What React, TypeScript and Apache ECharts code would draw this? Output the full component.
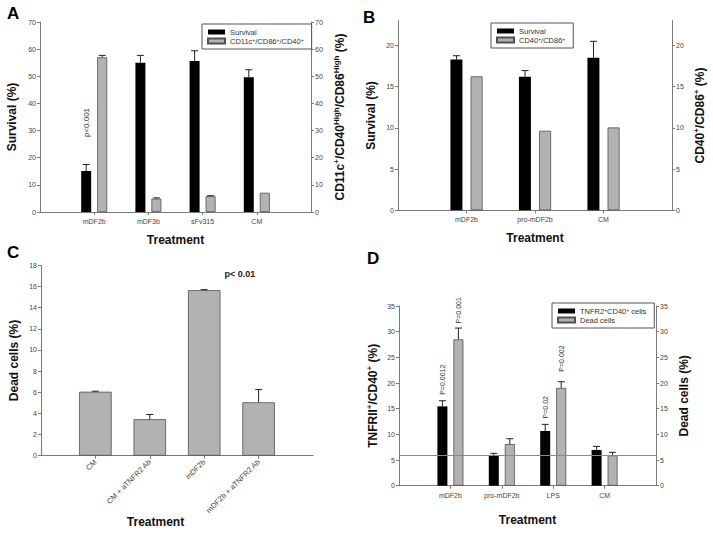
import React, { useEffect, useRef } from "react";
import * as echarts from "echarts";

const FONT = 'Arial, "Liberation Sans", Helvetica, sans-serif';

// ---------- Panel A ----------
const catsA = ["mDF2b", "mDF3b", "sFv315", "CM"];
const survivalA = [15.1, 55.0, 55.6, 49.6];
const survivalErrA = [2.4, 2.7, 3.8, 2.8];
const cdA = [57.0, 4.9, 5.8, 7.1];
const cdErrA = [0.7, 0.3, 0.2, 0];
const pLabelsA = ["p<0.001", null, null, null];
const pAnchorA = [27.6, null, null, null];

// ---------- Panel B ----------
const catsB = ["mDF2b", "pro-mDF2b", "CM"];
const survivalB = [18.3, 16.2, 18.5];
const survivalErrB = [0.45, 0.75, 2.0];
const cdB = [16.25, 9.65, 10.05];
const cdErrB = [0, 0, 0];
const ticksB = [0, 5, 10, 15, 20];

// ---------- Panel C ----------
const catsC = ["CM", "CM + aTNFR2 Ab", "mDF2b", "mDF2b + aTNFR2 Ab"];
const deadC = [6.05, 3.45, 15.65, 5.05];
const deadErrC = [0.05, 0.45, 0.05, 1.2];

// ---------- Panel D ----------
const catsD = ["mDF2b", "pro-mDF2b", "LPS", "CM"];
const tnfrD = [15.45, 5.85, 10.65, 6.95];
const tnfrErrD = [1.1, 0.45, 1.3, 0.7];
const deadD = [28.5, 8.1, 19.05, 5.9];
const deadErrD = [2.2, 1.05, 1.2, 0.6];
const pLabelsTnfrD = ["P=0.0012", null, "P=0.02", null];
const pAnchorTnfrD = [17.7, null, 13.1, null];
const pLabelsDeadD = ["P=0.001", null, "P=0.002", null];
const pAnchorDeadD = [31.6, null, 22.2, null];
const baselineD = 5.85;

const BLACK = "#000000";
const GRAY = "#b2b2b2";
const GRAY_BORDER = "#505050";
const AXIS = "#7a7a7a";
const LABEL = "#444444";

const legendNames: Record<string, string> = {
  A_surv: "Survival",
  A_cd: "CD11c{sup|+}/CD86{sup|+}/CD40{sup|+}",
  B_surv: "Survival",
  B_cd: "CD40{sup|+}/CD86{sup|+}",
  D_tnfr: "TNFR2{sup|+}CD40{sup|+} cells",
  D_dead: "Dead cells",
};

const pad = (arr: number[]) => ["-", ...arr, "-"];

function xCat(gi: number, cats: string[], extra: any = {}) {
  return {
    type: "category",
    gridIndex: gi,
    data: ["", ...cats, ""],
    boundaryGap: false,
    axisLine: { show: true, lineStyle: { color: AXIS, width: 1 } },
    axisTick: {
      show: true,
      length: 3,
      interval: (idx: number) => idx > 0 && idx < cats.length + 1,
      lineStyle: { color: AXIS },
    },
    axisLabel: { interval: 0, fontSize: 7, color: LABEL, fontFamily: FONT, margin: 6 },
    splitLine: { show: false },
    ...extra,
  };
}

const nameStyle = {
  fontSize: 12,
  fontWeight: "bold",
  color: "#111",
  fontFamily: FONT,
  lineHeight: 15,
  rich: {
    sup: { fontSize: 8, fontWeight: "bold", verticalAlign: "top", lineHeight: 15, color: "#111", fontFamily: FONT },
  },
};

function yVal(gi: number, pos: "left" | "right", max: number, interval: number, name: string, gap: number, extra: any = {}) {
  return {
    type: "value",
    gridIndex: gi,
    position: pos,
    min: 0,
    max,
    interval,
    axisLine: { show: true, lineStyle: { color: AXIS, width: 1 } },
    axisTick: { show: true, length: 3, lineStyle: { color: AXIS } },
    axisLabel: { fontSize: 7, color: LABEL, fontFamily: FONT, margin: 4 },
    splitLine: { show: false },
    name,
    nameLocation: "middle",
    nameRotate: 90,
    nameGap: gap,
    nameTextStyle: nameStyle,
    ...extra,
  };
}

function barSeries(name: string, xi: number, yi: number, vals: number[], width: number, gap: string, gray: boolean, extra: any = {}) {
  return {
    type: "bar",
    name,
    xAxisIndex: xi,
    yAxisIndex: yi,
    data: pad(vals),
    barWidth: width,
    barGap: gap,
    itemStyle: gray
      ? { color: GRAY, borderColor: GRAY_BORDER, borderWidth: 0.8 }
      : { color: BLACK, borderColor: BLACK, borderWidth: 0 },
    ...extra,
  };
}

function errSeries(
  xi: number,
  yi: number,
  vals: number[],
  errs: number[],
  offset: number,
  labels?: (string | null)[],
  anchors?: (number | null)[],
  labelSize: number = 8
) {
  const data = vals.map((v, i) => [i + 1, v, v + errs[i]]);
  return {
    type: "custom",
    xAxisIndex: xi,
    yAxisIndex: yi,
    silent: true,
    z: 5,
    data,
    encode: { x: 0, y: [1, 2] },
    renderItem: (params: any, api: any) => {
      const i = params.dataIndex;
      const c = api.value(0);
      const base = api.coord([c, api.value(1)]);
      const top = api.coord([c, api.value(2)]);
      const x = base[0] + offset;
      const children: any[] = [];
      if (errs[i] > 0) {
        children.push({
          type: "line",
          shape: { x1: x, y1: base[1], x2: x, y2: top[1] },
          style: { stroke: "#222", lineWidth: 1 },
        });
        children.push({
          type: "line",
          shape: { x1: x - 3.5, y1: top[1], x2: x + 3.5, y2: top[1] },
          style: { stroke: "#222", lineWidth: 1 },
        });
      }
      if (labels && anchors && labels[i] && anchors[i] != null) {
        const p = api.coord([c, anchors[i]]);
        children.push({
          type: "text",
          x: x + 0.5,
          y: p[1],
          rotation: Math.PI / 2,
          style: {
            text: labels[i],
            fontSize: labelSize,
            fontFamily: FONT,
            fill: "#333",
            align: "left",
            verticalAlign: "middle",
          },
        });
      }
      return { type: "group", children };
    },
  };
}

function legendAt(left: number, top: number, names: string[]) {
  return {
    left,
    top,
    orient: "vertical",
    data: names,
    itemWidth: 17,
    itemHeight: 5,
    itemGap: 1,
    padding: [4, 8, 4, 5],
    borderColor: "#555",
    borderWidth: 1,
    icon: "rect",
    selectedMode: false,
    formatter: (n: string) => legendNames[n] || n,
    textStyle: {
      fontSize: 7.5,
      color: "#333",
      fontFamily: FONT,
      rich: { sup: { fontSize: 5, verticalAlign: "top", color: "#333", fontFamily: FONT } },
    },
  };
}

function letter(text: string, x: number, y: number) {
  return {
    type: "text",
    x,
    y,
    style: { text, fontSize: 17, fontWeight: "bold", fontFamily: FONT, fill: "#000", align: "left", verticalAlign: "top" },
  };
}

export default function App() {
  const ref = useRef<HTMLDivElement>(null);

  useEffect(() => {
    if (!ref.current) return;
    const chart = echarts.init(ref.current, null, { renderer: "svg" });

    const treatmentName = {
      name: "Treatment",
      nameLocation: "middle",
      nameTextStyle: { fontSize: 12, fontWeight: "bold", color: "#111", fontFamily: FONT },
    };

    const option: any = {
      animation: false,
      backgroundColor: "#ffffff",
      textStyle: { fontFamily: FONT },
      grid: [
        { left: 40, top: 22, width: 271, height: 190 },
        { left: 398, top: 20.7, width: 274, height: 189.6 },
        { left: 41, top: 265.3, width: 272, height: 190.4 },
        { left: 399, top: 306, width: 257, height: 179.7 },
      ],
      xAxis: [
        xCat(0, catsA, { ...treatmentName, nameGap: 22 }),
        xCat(1, catsB, { ...treatmentName, nameGap: 22 }),
        xCat(2, catsC, { axisLabel: { interval: 0, rotate: 45, fontSize: 7.5, color: LABEL, fontFamily: FONT, margin: 5 } }),
        xCat(3, catsD, { ...treatmentName, nameGap: 28 }),
      ],
      yAxis: [
        yVal(0, "left", 70, 10, "Survival (%)", 21),
        yVal(0, "right", 70, 10, "CD11c{sup|+}/CD40{sup|High}/CD86{sup|High} (%)", 21),
        yVal(1, "left", 23, 5, "Survival (%)", 20, {
          axisLabel: { fontSize: 7, color: LABEL, fontFamily: FONT, margin: 4, customValues: ticksB },
          axisTick: { show: true, length: 3, lineStyle: { color: AXIS }, customValues: ticksB },
        }),
        yVal(1, "right", 23, 5, "CD40{sup|+}/CD86{sup|+} (%)", 20, {
          axisLabel: { fontSize: 7, color: LABEL, fontFamily: FONT, margin: 4, customValues: ticksB },
          axisTick: { show: true, length: 3, lineStyle: { color: AXIS }, customValues: ticksB },
        }),
        yVal(2, "left", 18, 2, "Dead cells (%)", 20),
        yVal(3, "left", 35, 5, "TNFRII{sup|+}/CD40{sup|+} (%)", 19),
        yVal(3, "right", 35, 5, "Dead cells (%)", 20),
      ],
      legend: [
        legendAt(202, 24, ["A_surv", "A_cd"]),
        legendAt(491, 23, ["B_surv", "B_cd"]),
        legendAt(552, 303, ["D_tnfr", "D_dead"]),
      ],
      series: [
        // A
        barSeries("A_surv", 0, 0, survivalA, 10, "60%", false),
        barSeries("A_cd", 0, 1, cdA, 10, "60%", true),
        errSeries(0, 0, survivalA, survivalErrA, -8, pLabelsA, pAnchorA, 8),
        errSeries(0, 1, cdA, cdErrA, 8),
        // B
        barSeries("B_surv", 1, 2, survivalB, 12, "68%", false),
        barSeries("B_cd", 1, 3, cdB, 12, "68%", true),
        errSeries(1, 2, survivalB, survivalErrB, -10),
        errSeries(1, 3, cdB, cdErrB, 10),
        // C
        barSeries("C_dead", 2, 4, deadC, 32.5, "0%", true),
        errSeries(2, 4, deadC, deadErrC, 0),
        // D
        barSeries("D_tnfr", 3, 5, tnfrD, 10, "60%", false, {
          markLine: {
            silent: true,
            symbol: ["none", "none"],
            label: { show: false },
            lineStyle: { color: "#8a8a8a", width: 1, type: "solid" },
            data: [{ yAxis: baselineD }],
          },
        }),
        barSeries("D_dead", 3, 6, deadD, 10, "60%", true),
        errSeries(3, 5, tnfrD, tnfrErrD, -8, pLabelsTnfrD, pAnchorTnfrD, 7),
        errSeries(3, 6, deadD, deadErrD, 8, pLabelsDeadD, pAnchorDeadD, 7),
      ],
      graphic: [
        letter("A", 7, 5),
        letter("B", 363, 8.5),
        letter("C", 7, 244),
        letter("D", 367, 250),
        {
          type: "text",
          x: 155.5,
          y: 521.7,
          style: { text: "Treatment", fontSize: 12, fontWeight: "bold", fontFamily: FONT, fill: "#111", align: "center", verticalAlign: "middle" },
        },
        {
          type: "text",
          x: 240,
          y: 274,
          style: { text: "p< 0.01", fontSize: 9, fontWeight: "bold", fontFamily: FONT, fill: "#222", align: "center", verticalAlign: "middle" },
        },
      ],
    };

    chart.setOption(option);
    return () => chart.dispose();
  }, []);

  return (
    <div
      ref={ref}
      style={{ position: "absolute", left: 0, top: 0, width: 713, height: 534, background: "#fff" }}
    />
  );
}
